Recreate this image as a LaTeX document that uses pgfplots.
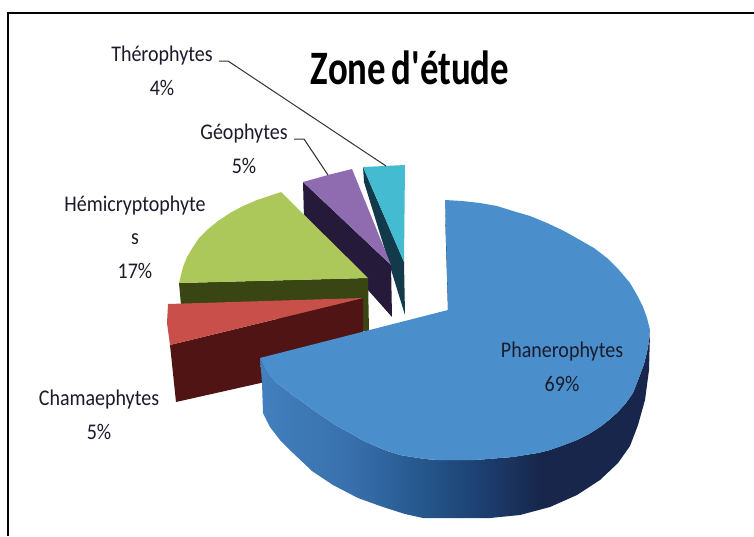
\documentclass[border=0pt]{standalone}
\usepackage{pgfplots}
\pgfplotsset{compat=1.18}
\usepackage{fontspec}
\setmainfont{Carlito}
\newfontfamily\titlefont{Carlito}
\definecolor{txt}{HTML}{1B1B2B}
\definecolor{bluetop}{HTML}{4A8FCB}
\definecolor{bluedark}{HTML}{17264A}
\definecolor{purpletop}{HTML}{8F6BB0}
\definecolor{tealtop}{HTML}{44BBD0}
\definecolor{greentop}{HTML}{ADC85A}
\definecolor{redtop}{HTML}{C9504A}
\definecolor{reddark}{HTML}{4F1413}
\definecolor{greendark}{HTML}{3A4514}
\definecolor{purpledark}{HTML}{251A3A}
\definecolor{tealdark}{HTML}{123A4A}
\pgfdeclarehorizontalshading{bluesideshade}{100bp}{
 rgb(0bp)=(.26,.50,.74);
 rgb(25bp)=(.26,.50,.74);
 rgb(36.5bp)=(.22,.44,.68);
 rgb(45bp)=(.15,.35,.56);
 rgb(54bp)=(.11,.24,.43);
 rgb(61bp)=(.09,.15,.29);
 rgb(100bp)=(.09,.15,.29)}
\begin{document}
\begin{tikzpicture}
\begin{axis}[
 scale only axis, width=754pt, height=536pt,
 xmin=0, xmax=754, ymin=0, ymax=536, y dir=reverse,
 axis lines=none, clip=true]
\addplot[fill=white,draw=none] coordinates {(0,0)(754,0)(754,536)(0,536)} --cycle;
% frame
\addplot[black,line width=1.6pt] coordinates {(8,536)(8,13)(754,13)};
% teal
\addplot[fill=tealdark,draw=none] coordinates {(363,167)(404,262)(405,315)(364,182)} --cycle;
\addplot[fill=tealtop,draw=none] coordinates {(363,167)(384,166)(405,165)(404,262)} --cycle;
% purple
\addplot[fill=purpledark,draw=none] coordinates {(303,182)(391,265)(392,317)(304,218)} --cycle;
\addplot[fill=purpletop,draw=none] coordinates {(303,182)(328,175)(352,169)(391,265)} --cycle;
% green
\addplot[fill=greendark,draw=none] coordinates {(179,283)(368,278)(369,332)(181,305)} --cycle;
\addplot[fill=greentop,draw=none] coordinates {(179,283)(183,267)(187,257)(193,247)(199,238)(207,230)(218,221)(230,213)(243,206)(257,200)(269,196)(281,192)(368,278)} --cycle;
% red
\addplot[fill=reddark,draw=none] coordinates {(170,345)(363,298)(363,360)(176,402)} --cycle;
\addplot[fill=redtop,draw=none] coordinates {(168,304)(363,298)(170,345)(167,323)} --cycle;
% blue inner sliver
\addplot[fill=bluedark,draw=none] coordinates {(445,210)(448,310)(450,310)} --cycle;
% blue side
\addplot[shading=bluesideshade,draw=none] coordinates {(260,358)(262,383)(263,413)(270,427)(280,440)(293,453)(312,471)(333,485)(358,498)(383,507)(405,514)(423,518)(490,518)(520,515)(550,507)(577,495)(600,480)(618,463)(630,446)(638,425)(645,400)(649,370)(650,333)(649,341)(647,352)(644,364)(640,375)(633,393)(626,403)(618,412)(609,420)(600,427)(589,434)(577,440)(564,445)(550,450)(538,453)(525,455)(513,457)(500,458)(488,459)(475,460)(462,460)(450,460)(438,460)(425,459)(412,457)(400,455)(387,451)(375,446)(362,440)(350,433)(337,426)(325,418)(312,409)(300,400)(292,395)(285,389)(277,383)(270,377)(264,367)} --cycle;
% blue top
\addplot[fill=bluetop,draw=none] coordinates {(448,310)(445,200)(462,201)(480,203)(497,206)(513,211)(530,216)(547,223)(564,231)(580,240)(594,248)(607,258)(619,270)(630,283)(637,295)(643,307)(647,318)(650,330)(649,341)(647,352)(644,364)(640,375)(633,393)(626,403)(618,412)(609,420)(600,427)(589,434)(577,440)(564,445)(550,450)(538,453)(525,455)(513,457)(500,458)(488,459)(475,460)(462,460)(450,460)(438,460)(425,459)(412,457)(400,455)(387,451)(375,446)(362,440)(350,433)(337,426)(325,418)(312,409)(300,400)(292,395)(285,389)(277,383)(270,377)(264,367)(260,358)} --cycle;
% leaders
\addplot[black!80,line width=1pt] coordinates {(219,61)(228,61)(386,166)};
\addplot[black!80,line width=1pt] coordinates {(294,139)(304,139)(328,175)};
% labels
\tikzset{lab/.style={txt,font=\fontsize{20}{24}\selectfont,align=center,yscale=1.12}}
\node[lab] at (axis cs:162,71) {Thérophytes\\[6pt]4\%};
\node[lab] at (axis cs:244,149) {Géophytes\\[6pt]5\%};
\node[lab] at (axis cs:135,237) {Hémicryptophyte\\[6pt]s\\[6pt]17\%};
\node[lab] at (axis cs:99,415) {Chamaephytes\\[6pt]5\%};
\node[lab] at (axis cs:562,367) {Phanerophytes\\[6pt]69\%};
\node[black,font=\titlefont\bfseries\fontsize{40}{48}\selectfont,xscale=0.92,yscale=1.2] at (axis cs:410,68) {Zone\hspace{-3pt} d'étude};
\end{axis}
\end{tikzpicture}
\end{document}
